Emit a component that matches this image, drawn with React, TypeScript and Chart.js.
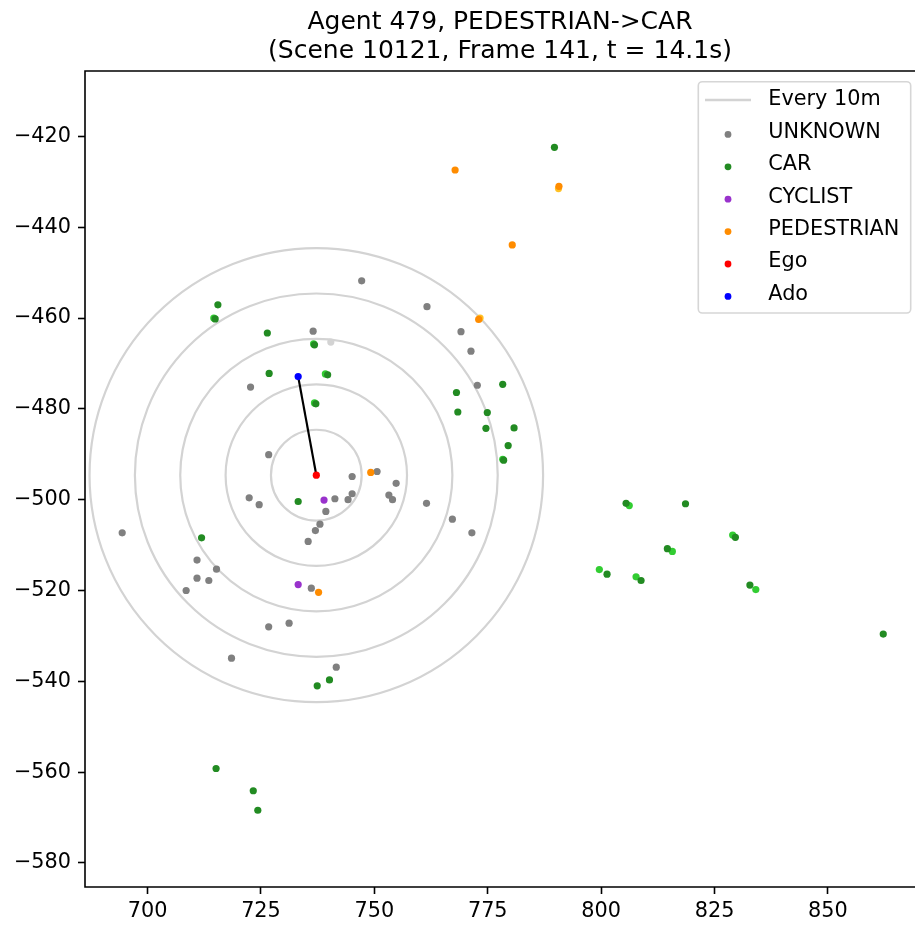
import React, { useEffect, useRef } from "react";
import { Chart, registerables } from "chart.js";

Chart.register(...registerables);

// ---------- data ----------
const TITLE_LINES = ["Agent 479, PEDESTRIAN->CAR", "(Scene 10121, Frame 141, t = 14.1s)"];

const X_TICKS = [700, 725, 750, 775, 800, 825, 850];
const Y_TICKS = [-420, -440, -460, -480, -500, -520, -540, -560, -580];
const X_RANGE = [686.2, 869.2];
const Y_RANGE = [-585.3, -405.6];

const RING_RADII = [10, 20, 30, 40, 50];

const egoX = [737.2];
const egoY = [-494.6];
const adoX = [733.2];
const adoY = [-472.9];

const unknownX = [747.2, 736.5, 722.7, 726.7, 745.1, 750.6, 722.4, 754.8, 724.6, 741.3, 745.1, 744.2, 753.2, 754.0, 761.5, 739.3, 738.0, 737.0, 735.4, 767.2, 771.5, 694.4, 710.9, 715.2, 710.9, 713.5, 708.5, 736.1, 726.7, 731.2, 718.5, 741.6, 761.6, 769.1, 771.3, 772.7];
const unknownY = [-451.8, -462.9, -475.2, -490.1, -494.9, -493.8, -499.6, -496.4, -501.1, -499.8, -498.7, -500.0, -499.0, -500.0, -500.8, -502.6, -505.4, -506.8, -509.2, -504.3, -507.3, -507.3, -513.3, -515.3, -517.3, -517.8, -520.0, -519.5, -528.0, -527.2, -534.9, -536.9, -457.5, -463.0, -467.3, -474.8];

const unknownPrevX = [740.4];
const unknownPrevY = [-465.3];

const carX = [789.7, 715.5, 714.9, 726.4, 736.8, 726.8, 739.7, 737.1, 733.2, 711.9, 740.1, 737.4, 715.1, 723.3, 724.3, 778.3, 768.1, 768.4, 774.9, 774.6, 780.8, 779.5, 778.5, 805.5, 818.6, 829.6, 814.6, 801.3, 808.8, 832.8, 862.2];
const carY = [-422.4, -457.1, -460.2, -463.3, -465.9, -472.2, -472.5, -478.9, -500.4, -508.4, -539.7, -541.0, -559.2, -564.1, -568.4, -474.6, -476.4, -480.7, -480.8, -484.3, -484.2, -488.1, -491.3, -500.8, -500.9, -508.3, -510.8, -516.4, -517.8, -518.8, -529.6];

const carPrevX = [714.6, 736.6, 739.2, 736.8, 778.3, 806.2, 829.0, 815.7, 799.6, 807.7, 834.1];
const carPrevY = [-460.0, -465.7, -472.3, -478.7, -491.1, -501.3, -507.8, -511.4, -515.4, -517.0, -519.8];

const cyclistX = [738.9, 733.2];
const cyclistY = [-500.1, -518.7];

const pedestrianX = [749.2, 737.7, 773.0, 790.7, 767.8, 780.4];
const pedestrianY = [-494.0, -520.4, -460.3, -431.0, -427.4, -443.9];

const pedestrianPrevX = [773.3, 790.6];
const pedestrianPrevY = [-460.0, -431.5];

const LEGEND_LABELS = ["Every 10m", "UNKNOWN", "CAR", "CYCLIST", "PEDESTRIAN", "Ego", "Ado"];

// ---------- styles ----------
const COLORS = {
  ring: "#d3d3d3",
  unknown: "#808080",
  unknownPrev: "#d3d3d3",
  car: "#228b22",
  carPrev: "#32cd32",
  cyclist: "#9932cc",
  pedestrian: "#ff8c00",
  pedestrianPrev: "#ffc125",
  ego: "#ff0000",
  ado: "#0000ff",
};
const LEGEND_COLORS = [COLORS.ring, COLORS.unknown, COLORS.car, COLORS.cyclist, COLORS.pedestrian, COLORS.ego, COLORS.ado];
const FONT = "'DejaVu Sans', 'Liberation Sans', sans-serif";

const zip = (xs: number[], ys: number[]) => xs.map((x, i) => ({ x, y: ys[i] }));
const fmt = (v: number) => (v < 0 ? "\u2212" + Math.abs(v) : String(v));

function pointSet(data: { x: number; y: number }[], color: string) {
  return {
    data,
    backgroundColor: color,
    borderColor: color,
    borderWidth: 0,
    pointRadius: 3.6,
    pointHoverRadius: 3.6,
  };
}

const decorPlugin = {
  id: "decor",
  beforeDatasetsDraw(chart: any) {
    const { ctx, chartArea, scales } = chart;
    const sx = scales.x;
    const sy = scales.y;
    ctx.save();
    ctx.beginPath();
    ctx.rect(chartArea.left, chartArea.top, chartArea.right - chartArea.left, chartArea.bottom - chartArea.top);
    ctx.clip();
    const cx = sx.getPixelForValue(egoX[0]);
    const cy = sy.getPixelForValue(egoY[0]);
    ctx.strokeStyle = COLORS.ring;
    ctx.lineWidth = 2.2;
    for (const r of RING_RADII) {
      const rx = Math.abs(sx.getPixelForValue(egoX[0] + r) - cx);
      const ry = Math.abs(sy.getPixelForValue(egoY[0] + r) - cy);
      ctx.beginPath();
      ctx.ellipse(cx, cy, rx, ry, 0, 0, Math.PI * 2);
      ctx.stroke();
    }
    ctx.restore();
  },
  afterDraw(chart: any) {
    const { ctx, chartArea } = chart;
    ctx.save();
    // frame
    ctx.strokeStyle = "#000";
    ctx.lineWidth = 1.6;
    ctx.beginPath();
    ctx.moveTo(chartArea.right + 2, chartArea.top);
    ctx.lineTo(chartArea.left, chartArea.top);
    ctx.lineTo(chartArea.left, chartArea.bottom);
    ctx.lineTo(chartArea.right + 2, chartArea.bottom);
    ctx.stroke();

    // title
    const tcx = (chartArea.left + chartArea.right) / 2;
    ctx.fillStyle = "#000";
    ctx.font = `25px ${FONT}`;
    ctx.textAlign = "center";
    ctx.textBaseline = "alphabetic";
    ctx.fillText(TITLE_LINES[0], tcx, chartArea.top - 42);
    ctx.fillText(TITLE_LINES[1], tcx, chartArea.top - 13);

    // legend
    const boxW = 212.4;
    const boxH = 231.3;
    const boxL = chartArea.right - 4.3 - boxW;
    const boxT = chartArea.top + 10.7;
    ctx.beginPath();
    ctx.roundRect(boxL, boxT, boxW, boxH, 4);
    ctx.fillStyle = "rgba(255,255,255,0.8)";
    ctx.fill();
    ctx.strokeStyle = "#d6d6d6";
    ctx.lineWidth = 1.6;
    ctx.stroke();

    ctx.font = `20.8px ${FONT}`;
    ctx.textAlign = "left";
    ctx.textBaseline = "middle";
    LEGEND_LABELS.forEach((label, i) => {
      const rowY = boxT + 18.3 + i * 32.4;
      if (i === 0) {
        ctx.strokeStyle = LEGEND_COLORS[0];
        ctx.lineWidth = 2.5;
        ctx.beginPath();
        ctx.moveTo(boxL + 6.7, rowY);
        ctx.lineTo(boxL + 52.7, rowY);
        ctx.stroke();
      } else {
        ctx.fillStyle = LEGEND_COLORS[i];
        ctx.beginPath();
        ctx.arc(boxL + 29.7, rowY + 2, 3.4, 0, Math.PI * 2);
        ctx.fill();
      }
      ctx.fillStyle = "#000";
      ctx.fillText(label, boxL + 70, rowY);
    });
    ctx.restore();
  },
};

export default function App() {
  const ref = useRef<HTMLCanvasElement | null>(null);

  useEffect(() => {
    if (!ref.current) return;
    const tickFont = { family: FONT, size: 20.8 };
    const chart = new Chart(ref.current, {
      type: "scatter",
      data: {
        datasets: [
          pointSet(zip(egoX, egoY), COLORS.ego),
          pointSet(zip(adoX, adoY), COLORS.ado),
          {
            data: [...zip(adoX, adoY), ...zip(egoX, egoY)],
            showLine: true,
            borderColor: "#000",
            borderWidth: 2.2,
            pointRadius: 0,
            pointHoverRadius: 0,
          },
          pointSet(zip(pedestrianX, pedestrianY), COLORS.pedestrian),
          pointSet(zip(pedestrianPrevX, pedestrianPrevY), COLORS.pedestrianPrev),
          pointSet(zip(cyclistX, cyclistY), COLORS.cyclist),
          pointSet(zip(carX, carY), COLORS.car),
          pointSet(zip(carPrevX, carPrevY), COLORS.carPrev),
          pointSet(zip(unknownX, unknownY), COLORS.unknown),
          pointSet(zip(unknownPrevX, unknownPrevY), COLORS.unknownPrev),
        ] as any,
      },
      options: {
        animation: false,
        responsive: false,
        devicePixelRatio: 1,
        layout: { autoPadding: false, padding: { top: 71, right: 0, bottom: 0, left: 0 } },
        plugins: {
          legend: { display: false },
          title: { display: false },
          tooltip: { enabled: false },
        },
        events: [],
        scales: {
          x: {
            type: "linear",
            min: X_RANGE[0],
            max: X_RANGE[1],
            afterBuildTicks: (s: any) => {
              s.ticks = X_TICKS.map((v) => ({ value: v }));
            },
            afterFit: (s: any) => {
              s.height = 38;
              s.paddingLeft = 0;
              s.paddingRight = 0;
            },
            border: { display: false },
            grid: {
              display: true,
              drawOnChartArea: false,
              drawTicks: true,
              tickLength: 7,
              tickWidth: 1.6,
              tickColor: "#000",
            },
            ticks: {
              color: "#000",
              font: tickFont,
              padding: 5,
              maxRotation: 0,
              autoSkip: false,
              callback: (v: any) => fmt(Number(v)),
            },
          },
          y: {
            type: "linear",
            min: Y_RANGE[0],
            max: Y_RANGE[1],
            afterBuildTicks: (s: any) => {
              s.ticks = Y_TICKS.map((v) => ({ value: v }));
            },
            afterFit: (s: any) => {
              s.width = 85;
              s.paddingTop = 0;
              s.paddingBottom = 0;
            },
            border: { display: false },
            grid: {
              display: true,
              drawOnChartArea: false,
              drawTicks: true,
              tickLength: 7,
              tickWidth: 1.6,
              tickColor: "#000",
            },
            ticks: {
              color: "#000",
              font: tickFont,
              padding: 7,
              autoSkip: false,
              callback: (v: any) => fmt(Number(v)),
            },
          },
        },
      } as any,
      plugins: [decorPlugin],
    });
    return () => chart.destroy();
  }, []);

  return (
    <div style={{ position: "absolute", left: 0, top: 0, width: 915, height: 925, background: "#fff" }}>
      <canvas ref={ref} width={915} height={925} style={{ width: 915, height: 925, display: "block" }} />
    </div>
  );
}
